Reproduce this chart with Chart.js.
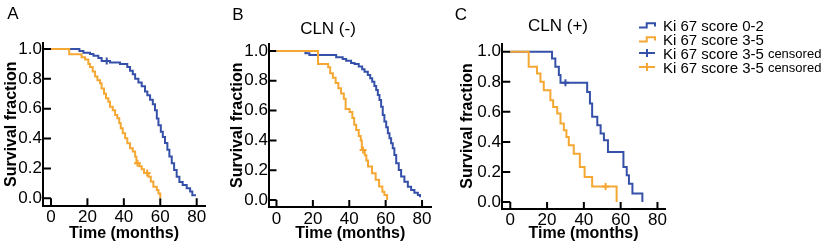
<!DOCTYPE html>
<html>
<head>
<meta charset="utf-8">
<script src="https://cdn.jsdelivr.net/npm/chart.js@4.4.1/dist/chart.umd.min.js"></script>
<style>
  html, body { margin: 0; padding: 0; background: #fff; }
  #wrap { position: relative; width: 825px; height: 250px; overflow: hidden;
          font-family: "Liberation Sans", Arial, sans-serif; color: #000; }
  #wrap canvas { position: absolute; left: 0; top: 0; }
  .lbl { position: absolute; transform: translate(-50%, -50%); white-space: nowrap; font-size: 17px; }
  .row { position: absolute; left: 638px; height: 14px; display: flex; align-items: center;
         white-space: nowrap; font-size: 15px; }
  .row svg { margin-right: 7px; flex: none; }
  .row small { font-size: 13px; margin-left: 4px; }
</style>
</head>
<body>
<div id="wrap">
  <canvas id="cA" width="825" height="250"></canvas>
  <canvas id="cB" width="825" height="250"></canvas>
  <canvas id="cC" width="825" height="250"></canvas>

  <div class="lbl" style="left:13px;top:14px">A</div>
  <div class="lbl" style="left:238px;top:15px">B</div>
  <div class="lbl" style="left:461px;top:15px">C</div>
  <div class="lbl" style="left:328px;top:29px">CLN (-)</div>
  <div class="lbl" style="left:558px;top:26px">CLN (+)</div>

  <div class="row" style="top:18px">
    <svg width="18" height="10"><path d="M1 7.5H8.7V3.3H17V6.5" fill="none" stroke="#3550a8" stroke-width="2"/></svg>Ki 67 score 0-2
  </div>
  <div class="row" style="top:32px">
    <svg width="18" height="10"><path d="M1 7.5H8.7V3.3H17V6.5" fill="none" stroke="#f5a733" stroke-width="2"/></svg>Ki 67 score 3-5
  </div>
  <div class="row" style="top:46px">
    <svg width="18" height="10"><path d="M1 5H17M9 1V9" fill="none" stroke="#3550a8" stroke-width="2"/></svg>Ki 67 score 3-5<small>censored</small>
  </div>
  <div class="row" style="top:60px">
    <svg width="18" height="10"><path d="M1 5H17M9 1V9" fill="none" stroke="#f5a733" stroke-width="2"/></svg>Ki 67 score 3-5<small>censored</small>
  </div>
</div>

<script>
const BLUE = "#3550a8";
const ORANGE = "#f5a733";

const X_TICKS = [0, 20, 40, 60, 80];
const Y_TICKS = [0, 0.2, 0.4, 0.6, 0.8, 1.0];

// Panel A - all patients
const A_LOW_T = [0, 15.6, 17.8, 21.4, 23.3, 26, 27.8, 32.4, 37.9, 41.9, 43.4, 44.9, 46.2, 48, 49.8, 51.6, 52.9, 54.4, 55.9, 57.1,
                 58.1, 59, 60.3, 61.4, 62.6, 63.9, 65, 66.3, 67.6, 69, 70.5, 72.3, 74.5, 76.4, 77.6, 79.6];
const A_LOW_S = [1, .987, .975, .967, .955, .94, .92, .91, .90, .88, .855, .83, .80, .775, .75, .715, .69, .66, .63, .59,
                 .535, .49, .445, .41, .37, .325, .28, .235, .19, .145, .11, .09, .067, .045, .02, .02];
const A_LOW_CENS_T = [30.6];
const A_LOW_CENS_S = [.92];
const A_HIGH_T = [0, 10, 16.8, 18.7, 20.5, 21.4, 22.9, 24.2, 25.5, 26.9, 27.8, 29.1, 30.2, 31.5, 32.4, 33.9, 35.2, 36.4, 37.5, 38.3,
                  39.4, 40.7, 41.9, 43.4, 44.9, 46.2, 46.9, 48.5, 49.8, 51.1, 53.5, 54.8, 56.2, 58.1, 59, 60];
const A_HIGH_S = [1, .965, .945, .93, .90, .88, .85, .815, .79, .77, .735, .70, .67, .647, .614, .59, .558, .536, .502, .469,
                  .435, .402, .368, .335, .313, .279, .235, .215, .195, .17, .145, .112, .078, .056, .033, 0];
const A_HIGH_CENS_T = [47.5, 52.8];
const A_HIGH_CENS_S = [.235, .17];

// Panel B - CLN (-)
const B_LOW_T = [0, 15.9, 18.1, 32.8, 36.4, 38.3, 41, 42.9, 45.2, 47.1, 48.4, 50.2, 51.5, 52.6, 53.8, 54.8, 55.7, 56.6, 57.5, 58.4,
                 59.3, 60.3, 61.2, 62.1, 63, 63.9, 64.8, 65.8, 67.2, 68.5, 70.3, 72.2, 74, 75.8, 77.7, 78.9];
const B_LOW_S = [1, .984, .973, .957, .946, .935, .92, .913, .895, .877, .861, .839, .817, .794, .765, .738, .705, .671, .626, .57,
                 .526, .488, .447, .414, .38, .347, .302, .246, .201, .157, .123, .089, .067, .049, .034, .018];
const B_LOW_CENS_T = [];
const B_LOW_CENS_S = [];
const B_HIGH_T = [0, 22.8, 28.4, 29.5, 31, 32.5, 34, 35.5, 37, 38, 40.2, 41.7, 42.7, 43.8, 45.2, 46.3, 46.9, 48.5, 49.4, 50.3,
                  52.5, 54.5, 56.4, 58.2, 59.3, 60.8];
const B_HIGH_S = [1, .913, .89, .85, .82, .785, .75, .715, .68, .61, .59, .55, .505, .47, .43, .40, .335, .30, .265, .225,
                  .18, .135, .09, .056, .033, 0];
const B_HIGH_CENS_T = [47.6];
const B_HIGH_CENS_S = [.335];

// Panel C - CLN (+)
const C_LOW_T = [0, 22.7, 24.5, 26.4, 27.3, 41.8, 43.3, 44.5, 47.3, 49.1, 50.9, 53.1, 61.5, 63.3, 64.5, 66.4, 71.8];
const C_LOW_S = [1, .955, .90, .845, .793, .733, .656, .567, .511, .456, .411, .333, .233, .178, .122, .056, 0];
const C_LOW_CENS_T = [30];
const C_LOW_CENS_S = [.793];
const C_HIGH_T = [0, 10, 14.5, 16.4, 18.2, 21.8, 23.3, 25.5, 27.3, 29.1, 30.5, 31.8, 34.5, 37.8, 40.4, 44.5, 57.8];
const C_HIGH_S = [1, .9, .856, .80, .744, .678, .633, .589, .522, .478, .433, .378, .322, .233, .167, .104, 0];
const C_HIGH_CENS_T = [51.8];
const C_HIGH_CENS_S = [.104];

// layout of each panel (pixels of the axis box) and its axis ranges
const PANELS = [
  { id: "cA", left: 43, right: 205, top: 43, bottom: 205.5, yW: 41, titleB: 6.4,
    xMin: -4.39, xMax: 84.56, yMin: -0.048, yMax: 1.04,
    low: [A_LOW_T, A_LOW_S, A_LOW_CENS_T, A_LOW_CENS_S], high: [A_HIGH_T, A_HIGH_S, A_HIGH_CENS_T, A_HIGH_CENS_S] },
  { id: "cB", left: 269, right: 431.5, top: 43.5, bottom: 207, yW: 40.6, titleB: 7.1,
    xMin: -4.12, xMax: 85.2, yMin: -0.047, yMax: 1.05,
    low: [B_LOW_T, B_LOW_S, B_LOW_CENS_T, B_LOW_CENS_S], high: [B_HIGH_T, B_HIGH_S, B_HIGH_CENS_T, B_HIGH_CENS_S] },
  { id: "cC", left: 502, right: 665, top: 43.5, bottom: 208.5, yW: 44.3, titleB: 6.4,
    xMin: -4.5, xMax: 84.1, yMin: -0.043, yMax: 1.055,
    low: [C_LOW_T, C_LOW_S, C_LOW_CENS_T, C_LOW_CENS_S], high: [C_HIGH_T, C_HIGH_S, C_HIGH_CENS_T, C_HIGH_CENS_S] },
];

Chart.defaults.font.family = '"Liberation Sans", Arial, sans-serif';
Chart.defaults.color = "#000";

// ticks point into the plot, reaching the data origin (gives the little corner square)
const innerTicks = {
  id: "innerTicks",
  beforeDatasetsDraw(chart) {
    const { ctx, chartArea: a, scales: { x, y } } = chart;
    const x0 = x.getPixelForValue(0);
    const y0 = y.getPixelForValue(0);
    ctx.save();
    ctx.strokeStyle = "#000";
    ctx.lineWidth = 2;
    ctx.beginPath();
    for (const t of x.ticks) {
      const px = x.getPixelForValue(t.value);
      ctx.moveTo(px, a.bottom);
      ctx.lineTo(px, y0);
    }
    for (const t of y.ticks) {
      const py = y.getPixelForValue(t.value);
      ctx.moveTo(a.left, py);
      ctx.lineTo(x0, py);
    }
    ctx.stroke();
    ctx.restore();
  },
};

const toPoints = (t, s) => t.map((v, i) => ({ x: v, y: s[i] }));

function stepLine(t, s, color) {
  return { type: "line", data: toPoints(t, s), borderColor: color, borderWidth: 2,
           stepped: "before", pointRadius: 0, fill: false };
}

function censorMarks(t, s, color) {
  return { type: "scatter", data: toPoints(t, s), borderColor: color, backgroundColor: color,
           borderWidth: 2, pointStyle: "cross", pointRadius: 3.5, showLine: false };
}

function makeChart(p) {
  const [lt, ls, lct, lcs] = p.low;
  const [ht, hs, hct, hcs] = p.high;
  new Chart(document.getElementById(p.id), {
    type: "line",
    data: {
      datasets: [
        censorMarks(hct, hcs, ORANGE),
        stepLine(ht, hs, ORANGE),
        censorMarks(lct, lcs, BLUE),
        stepLine(lt, ls, BLUE),
      ],
    },
    options: {
      responsive: false,
      animation: false,
      events: [],
      layout: { padding: { left: p.left - p.yW, right: 825 - p.right, top: p.top, bottom: 0 } },
      plugins: { legend: { display: false }, tooltip: { enabled: false } },
      scales: {
        x: {
          type: "linear", min: p.xMin, max: p.xMax,
          afterBuildTicks: (s) => { s.ticks = X_TICKS.map((v) => ({ value: v })); },
          afterFit: (s) => { s.height = 250 - p.bottom; },
          grid: { drawOnChartArea: false, drawTicks: false },
          border: { display: true, color: "#000", width: 2 },
          ticks: { font: { size: 17 }, padding: 2, maxRotation: 0, autoSkip: false,
                   callback: (v) => String(v) },
          title: { display: true, text: "Time (months)", font: { size: 16, weight: "bold" },
                   padding: { top: 0, bottom: p.titleB } },
        },
        y: {
          type: "linear", min: p.yMin, max: p.yMax,
          afterBuildTicks: (s) => { s.ticks = Y_TICKS.map((v) => ({ value: v })); },
          afterFit: (s) => { s.width = p.yW; },
          grid: { drawOnChartArea: false, drawTicks: false },
          border: { display: true, color: "#000", width: 2 },
          ticks: { font: { size: 17 }, padding: 1, autoSkip: false,
                   callback: (v) => Number(v).toFixed(1) },
          title: { display: true, text: "Survival fraction", font: { size: 16, weight: "bold" },
                   padding: { top: 0, bottom: 0 } },
        },
      },
    },
    plugins: [innerTicks],
  });
}

PANELS.forEach(makeChart);
</script>
</body>
</html>
